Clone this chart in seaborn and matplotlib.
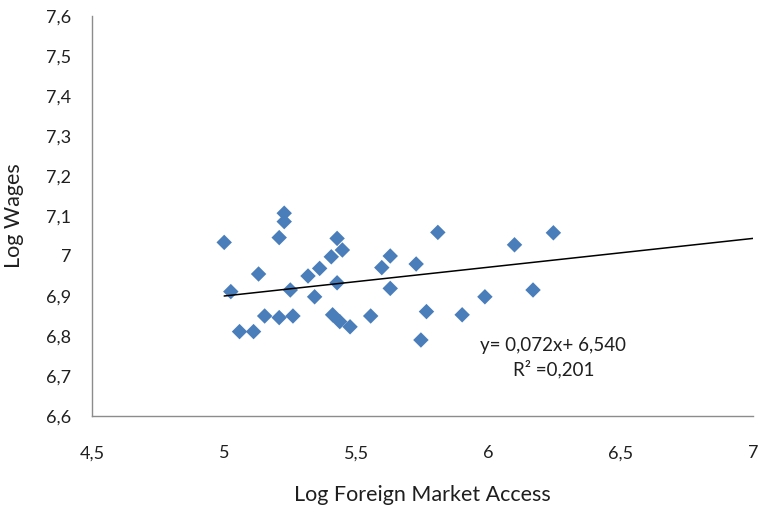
import matplotlib
matplotlib.use("Agg")
import matplotlib.pyplot as plt
import seaborn as sns
import numpy as np
import pandas as pd

# Data
log_fma = [5.000, 5.025, 5.058, 5.111, 5.130, 5.153, 5.208, 5.208, 5.227, 5.227,
           5.250, 5.260, 5.317, 5.342, 5.361, 5.405, 5.410, 5.427, 5.427, 5.437,
           5.447, 5.476, 5.554, 5.596, 5.628, 5.628, 5.726, 5.744, 5.765, 5.808,
           5.900, 5.986, 6.098, 6.168, 6.245]
log_wages = [7.034, 6.911, 6.811, 6.811, 6.955, 6.850, 6.846, 7.046, 7.107, 7.086,
             6.915, 6.850, 6.950, 6.898, 6.969, 6.998, 6.853, 7.044, 6.933, 6.836,
             7.015, 6.823, 6.850, 6.971, 7.000, 6.919, 6.980, 6.790, 6.861, 7.059,
             6.853, 6.898, 7.028, 6.915, 7.058]

slope = 0.072
intercept = 6.540
r2 = 0.201
x_ticks = [4.5, 5.0, 5.5, 6.0, 6.5, 7.0]
x_tick_labels = ["4,5", "5", "5,5", "6", "6,5", "7"]
y_ticks = [6.6, 6.7, 6.8, 6.9, 7.0, 7.1, 7.2, 7.3, 7.4, 7.5, 7.6]
y_tick_labels = ["6,6", "6,7", "6,8", "6,9", "7", "7,1", "7,2", "7,3", "7,4", "7,5", "7,6"]

df = pd.DataFrame({"Log Foreign Market Access": log_fma, "Log Wages": log_wages})

sns.set_theme(style="white")
plt.rcParams["font.family"] = ["Lato", "DejaVu Sans"]

fig = plt.figure(figsize=(7.59, 5.12), dpi=100)
ax = fig.add_axes([92 / 759, 1 - 416 / 512, (753 - 92) / 759, (416 - 16) / 512])

sns.scatterplot(data=df, x="Log Foreign Market Access", y="Log Wages", ax=ax,
                marker="D", s=62, color="#4a7ebb", edgecolor="none", zorder=3)

# Trend line
x_line = np.array([min(log_fma), 7.0])
ax.plot(x_line, slope * x_line + intercept, color="black", lw=1.1, zorder=4)

ax.set_xlim(4.5, 7.0)
ax.set_ylim(6.6, 7.6)
ax.set_xticks(x_ticks)
ax.set_xticklabels(x_tick_labels)
ax.set_yticks(y_ticks)
ax.set_yticklabels(y_tick_labels)

for side in ["top", "right"]:
    ax.spines[side].set_visible(False)
for side in ["left", "bottom"]:
    ax.spines[side].set_color("#8c8c8c")
    ax.spines[side].set_linewidth(1.0)

ax.tick_params(axis="both", which="major", direction="out", length=5, width=1,
               color="#8c8c8c", labelsize=13, labelcolor="#1f1f1f")
ax.tick_params(axis="y", pad=10)
ax.tick_params(axis="x", pad=16)

ax.set_xlabel("Log Foreign Market Access", fontsize=15.5, color="#1f1f1f", labelpad=17)
ax.set_ylabel("Log Wages", fontsize=15.5, color="#1f1f1f", labelpad=16)

ax.text(553 / 759, 1 - 345 / 512, "y= 0,072x+ 6,540", transform=fig.transFigure,
        ha="center", va="center", fontsize=13.5, color="#1f1f1f")
ax.text(554 / 759, 1 - 369 / 512, "R² =0,201", transform=fig.transFigure,
        ha="center", va="center", fontsize=13.5, color="#1f1f1f")

fig.savefig("out.png", dpi=100)
